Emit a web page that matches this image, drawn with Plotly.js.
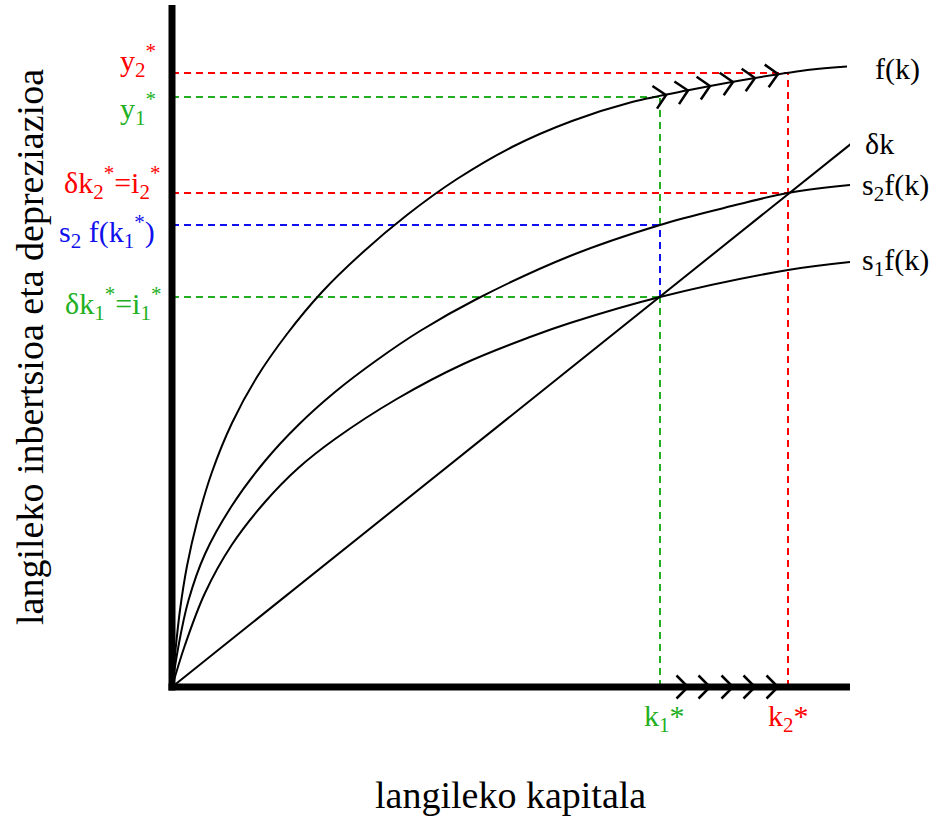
<!DOCTYPE html>
<html><head><meta charset="utf-8">
<script src="https://cdn.plot.ly/plotly-3.0.1.min.js"></script>
<style>html,body{margin:0;padding:0;background:#fff}</style>
</head><body><div id="chart" style="width:935px;height:816px"></div>
<script>
// ---- data (arbitrary units: capital per worker k, output/investment) ----
const fK   = [0, 3, 8, 15, 25, 40, 60, 85, 115, 150, 190, 235, 285, 340, 400, 460, 520, 580, 640, 675];
const fY   = [0, 32, 77, 121, 165, 215, 264, 310, 353, 395, 434, 472, 508, 540, 566, 585, 597.5, 608.5, 617.5, 620.5];
const s2K  = [0, 6.3, 16.3, 33, 59.7, 93, 126.3, 163, 205, 248, 304.7, 398, 488, 552, 616, 678];
const s2Y  = [0, 40, 86, 133, 181, 226, 262, 295, 327, 356, 388, 431, 462, 479, 494, 502];
const s1K  = [0, 13, 33, 59.7, 93, 126.3, 163, 224.7, 291.3, 358, 398, 488, 616, 678];
const s1Y  = [0, 42, 94, 142, 185, 219, 248, 288, 323, 350, 364, 390, 417, 425];
const depK = [0, 680];
const depY = [0, 544];
// steady states
const k1 = 488, k2 = 616;
const y1 = 590, y2 = 614;
const i1 = 390, i2 = 494;
const s2fk1 = 462;
// chevrons (transition path)
const arrowAxisK  = [516, 538, 561, 583, 606];
const arrowCurveK = [494, 516, 538, 561, 583, 606];
const arrowCurveY = [592, 596.5, 601, 605, 609, 613];

const RED = '#ff0000', GREEN = '#22b022', BLUE = '#1010ee';
const FONT = 'Liberation Serif, Times New Roman, serif';
const dashStyle = c => ({color: c, width: 2, dash: '7px,5px'});
const curve = {color: 'black', width: 2};

// chevron polylines built from the apex positions (axes are 1 unit per pixel)
const CHEV = 11.5;
function chevrons(xs, ys) {
  const X = [], Y = [];
  xs.forEach((x, i) => {
    const a = Math.max(i - 1, 0), b = Math.min(i + 1, xs.length - 1);
    const slope = b > a ? (ys[b] - ys[a]) / (xs[b] - xs[a]) : 0;
    const th = Math.atan(slope), c = Math.cos(th), s = Math.sin(th), y = ys[i];
    X.push(x - CHEV * c - CHEV * s, x, x - CHEV * c + CHEV * s, null);
    Y.push(y - CHEV * s + CHEV * c, y, y - CHEV * s - CHEV * c, null);
  });
  return {x: X, y: Y};
}

const traces = [
  {x: [0, k2], y: [y2, y2], line: dashStyle(RED)},
  {x: [k2, k2], y: [0, y2], line: dashStyle(RED)},
  {x: [0, k2], y: [i2, i2], line: dashStyle(RED)},
  {x: [0, k1], y: [y1, y1], line: dashStyle(GREEN)},
  {x: [k1, k1, null, k1, k1], y: [0, i1, null, s2fk1, y1], line: dashStyle(GREEN)},
  {x: [0, k1], y: [i1, i1], line: dashStyle(GREEN)},
  {x: [0, k1], y: [s2fk1, s2fk1], line: dashStyle(BLUE)},
  {x: [k1, k1], y: [i1, s2fk1], line: dashStyle(BLUE)},
  {x: fK, y: fY, line: Object.assign({shape: 'spline', smoothing: 1}, curve)},
  {x: s2K, y: s2Y, line: Object.assign({shape: 'spline', smoothing: 1}, curve)},
  {x: s1K, y: s1Y, line: Object.assign({shape: 'spline', smoothing: 1}, curve)},
  {x: depK, y: depY, line: curve},
  Object.assign(chevrons(arrowAxisK, arrowAxisK.map(() => 0)), {line: {color: 'black', width: 2.5}}),
  Object.assign(chevrons(arrowCurveK, arrowCurveY), {line: {color: 'black', width: 2.5}})
].map(t => Object.assign({type: 'scatter', mode: 'lines', hoverinfo: 'skip', showlegend: false}, t));

const ann = [];
const txt = (o) => ann.push(Object.assign({showarrow: false, xref: 'x', yref: 'y', font: {family: FONT, size: 30, color: 'black'}}, o));
const lbl = (o, color) => txt(Object.assign({xanchor: 'right', yanchor: 'middle', font: {family: FONT, size: 30, color: color}}, o));
// left value labels
lbl({x: -14, y: y2, yshift: 13, text: 'y<sub>2</sub><sup>*</sup>'}, RED);
lbl({x: -14, y: y1, yshift: -11, text: 'y<sub>1</sub><sup>*</sup>'}, GREEN);
lbl({x: -10, y: i2, yshift: 11, text: 'δk<sub>2</sub><sup>*</sup>=i<sub>2</sub><sup>*</sup>'}, RED);
lbl({x: -15, y: s2fk1, yshift: -6, text: 's<sub>2</sub> f(k<sub>1</sub><sup>*</sup>)'}, BLUE);
lbl({x: -9, y: i1, yshift: -6, text: 'δk<sub>1</sub><sup>*</sup>=i<sub>1</sub><sup>*</sup>'}, GREEN);
// bottom labels
txt({x: k1, y: 0, xanchor: 'center', yanchor: 'middle', xshift: 4, yshift: -31, text: 'k<sub>1</sub>*', font: {family: FONT, size: 30, color: GREEN}});
txt({x: k2, y: 0, xanchor: 'center', yanchor: 'middle', xshift: 0, yshift: -31, text: 'k<sub>2</sub>*', font: {family: FONT, size: 30, color: RED}});
// curve labels
txt({x: fK[fK.length - 1], y: fY[fY.length - 1], xanchor: 'left', yanchor: 'middle', xshift: 26, yshift: -2, text: 'f(k)'});
txt({x: 678, y: depY[1], xanchor: 'left', yanchor: 'middle', xshift: 13, yshift: 0, text: 'δk'});
txt({x: s2K[s2K.length - 1], y: s2Y[s2Y.length - 1], xanchor: 'left', yanchor: 'middle', xshift: 10, yshift: -2, text: 's<sub>2</sub>f(k)'});
txt({x: s1K[s1K.length - 1], y: s1Y[s1Y.length - 1], xanchor: 'left', yanchor: 'middle', xshift: 10, yshift: 0, text: 's<sub>1</sub>f(k)'});
// axis titles
ann.push({xref: 'paper', yref: 'paper', x: 0.5143, y: -0.0792, xanchor: 'center', yanchor: 'middle', showarrow: false,
  text: 'langileko kapitala', font: {family: FONT, size: 38, color: 'black'}});
ann.push({xref: 'paper', yref: 'paper', x: -0.1748, y: 0.5328, xanchor: 'center', yanchor: 'middle', showarrow: false, textangle: -90,
  text: 'langileko inbertsioa eta depreziazioa', font: {family: FONT, size: 38, color: 'black'}});

const layout = {
  width: 935, height: 816,
  margin: {l: 152, r: 85, t: 5, b: 79},
  paper_bgcolor: 'white', plot_bgcolor: 'white',
  xaxis: {range: [-20, 678], visible: false, fixedrange: true},
  yaxis: {range: [-50, 682], visible: false, fixedrange: true},
  showlegend: false,
  shapes: [
    {type: 'line', xref: 'x', yref: 'y', x0: -3.5, x1: 678, y0: 0, y1: 0, line: {color: 'black', width: 7}},
    {type: 'line', xref: 'x', yref: 'y', x0: 0, x1: 0, y0: -3.5, y1: 682, line: {color: 'black', width: 7}}
  ],
  annotations: ann
};
Plotly.newPlot('chart', traces, layout, {displayModeBar: false, staticPlot: true});
</script></body></html>
